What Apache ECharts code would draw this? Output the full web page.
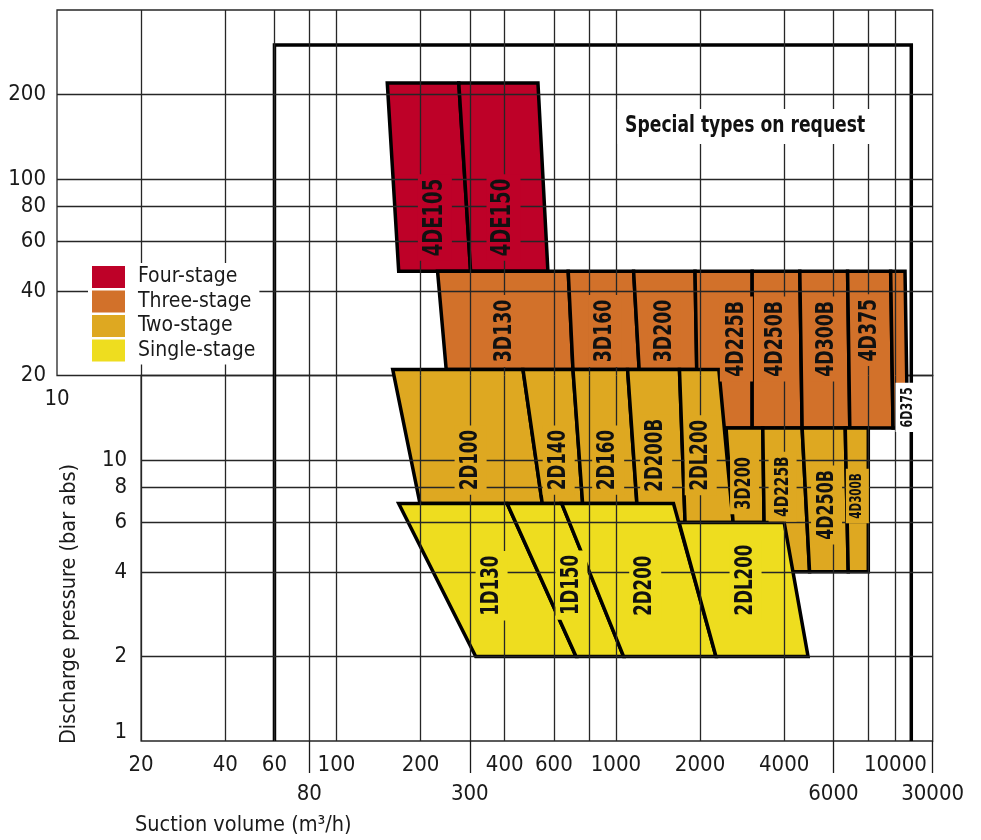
<!DOCTYPE html>
<html>
<head>
<meta charset="utf-8">
<script src="https://cdn.jsdelivr.net/npm/echarts@6/dist/echarts.min.js"></script>
<style>html,body{margin:0;padding:0;background:#fff}#chart{width:981px;height:840px}</style>
</head>
<body>
<div id="chart"></div>
<script>
// ---------------- data (m³/h, bar abs) ----------------
const xMin = 10, xMax = 13600, yMin = 1, ySplit = 20, yMax = 400;
const xGridValues = [20, 40, 60, 80, 100, 200, 300, 400, 600, 800, 1000, 2000, 4000, 6000, 8000, 10000];
const yGridUpper = [40, 60, 80, 100, 200];
const yGridLower = [2, 4, 6, 8, 10];
const xLabelsRow1 = [20, 40, 60, 100, 200, 400, 600, 1000, 2000, 4000, 10000];
const xLabelsRow2 = [80, 300, 6000, 13590];
const xEdgeLabel = '30000';
const xLabelsUpper = [10];
const yLabelsUpper = [20, 40, 60, 80, 100, 200];
const yLabelsLower = [1, 2, 4, 6, 8, 10];

const stageNames = ['Four-stage', 'Three-stage', 'Two-stage', 'Single-stage'];

const fourStageNames = ['4DE105', '4DE150'];
const fourStageCells = [
  [[152, 220], [274, 220], [302, 47], [167, 47]],
  [[274, 220], [526, 220], [571, 47], [302, 47]]
];
const fourStageLabelAt = [[225, 73], [396, 73]];

const threeStageNames = ['3D130', '3D160', '3D200', '4D225B', '4D250B', '4D300B', '4D375', '6D375'];
const threeStageCells = [
  [[230, 47], [675, 47], [702, 21], [247, 21]],
  [[675, 47], [1157, 47], [1211, 21], [702, 21]],
  [[1157, 47], [1919, 47], [1946, 21], [1211, 21]],
  [[1919, 47], [3073, 47], [3073, 13], [1963, 13]],
  [[3073, 47], [4550, 47], [4638, 13], [3073, 13]],
  [[4550, 47], [6745, 47], [6869, 13], [4638, 13]],
  [[6745, 47], [9619, 47], [9811, 13], [6869, 13]],
  [[9619, 47], [10826, 47], [11055, 13], [9811, 13]]
];
const threeStageLabelAt = [[400, 28.8], [911, 28.8], [1488, 28.8], [2698, 27], [3738, 27], [5672, 27], [8086, 29], [11055, 15.4]];

const twoStageNames = ['2D100', '2D140', '2D160', '2D200B', '2DL200', '3D200', '4D225B', '4D250B', '4D300B'];
const twoStageCells = [
  [[159, 21], [465, 21], [545, 7], [199, 7]],
  [[465, 21], [702, 21], [760, 7], [545, 7]],
  [[702, 21], [1101, 21], [1188, 7], [760, 7]],
  [[1101, 21], [1688, 21], [1768, 6], [1202, 6]],
  [[1688, 21], [2335, 21], [2626, 6], [1768, 6]],
  [[2478, 13], [3354, 13], [3390, 6], [2626, 6]],
  [[3354, 13], [4638, 13], [4931, 4], [4297, 4], [3390, 6]],
  [[4638, 13], [6616, 13], [6781, 4], [4931, 4]],
  [[6616, 13], [8000, 13], [8000, 4], [6781, 4]]
];
const twoStageLabelAt = [[302, 10], [624, 10], [938, 10], [1393, 10.4], [2011, 10.4], [2886, 8.26], [3948, 8.04], [5672, 6.92], [7311, 7.45]];

const singleStageNames = ['1D130', '1D150', '2D200', '2DL200'];
const singleStageCells = [
  [[167, 7], [408, 7], [720, 2], [315, 2]],
  [[408, 7], [640, 7], [1065, 2], [720, 2]],
  [[640, 7], [1607, 7], [2280, 2], [1065, 2]],
  [[1683, 6], [4000, 6], [4870, 2], [2280, 2]]
];
const singleStageLabelAt = [[359, 3.57], [693, 3.59], [1273, 3.57], [2910, 3.74]];

const specialFrame = [[60, 1], [60, 300], [11400, 300], [11400, 1]];
const specialText = 'Special types on request';
const specialTextAt = [2900, 154];

// ---------------- styles ----------------
const NARROW = '"Liberation Sans Narrow","DejaVu Sans Condensed","Roboto Condensed",sans-serif';
const COLORS = ['#BE0128', '#D2712A', '#DEA821', '#EEDD1F'];
const LABEL_SQUEEZE = 0.77;
const fourFont = [26, 26];
const threeFont = [25, 25, 25, 25, 25, 25, 25, 16];
const twoFont = [24, 24, 24, 24, 24, 21, 20, 23, 15];
const singleFont = [24, 24, 24, 24];
const gridLine = { color: '#262626', width: 1.3 };
const axisText = { fontSize: 22, fontFamily: NARROW, color: '#1a1a1a' };

function polySeries(name, color, cells, z) {
  return {
    name: name, type: 'custom', xAxisIndex: 3, yAxisIndex: 2, z: z, silent: true,
    itemStyle: { color: color },
    data: cells.map((c, i) => [c[0][0], c[0][1], i]),
    renderItem: function (params, api) {
      const pts = cells[api.value(2)].map(p => api.coord(p));
      return { type: 'polygon', shape: { points: pts },
        style: { fill: color, stroke: '#000', lineWidth: 3.5, lineJoin: 'miter' } };
    }
  };
}
function labelSeries(names, anchors, fonts, bgFor) {
  return {
    type: 'custom', xAxisIndex: 3, yAxisIndex: 2, z: 6, silent: true,
    data: anchors.map((a, i) => [a[0], a[1], i]),
    renderItem: function (params, api) {
      const i = api.value(2);
      const pt = api.coord([api.value(0), api.value(1)]);
      return { type: 'text', x: pt[0], y: pt[1], rotation: Math.PI / 2, scaleX: LABEL_SQUEEZE,
        style: { text: names[i], fill: '#111', fontSize: fonts[i], fontWeight: 'bold', fontFamily: NARROW,
          align: 'center', verticalAlign: 'middle', backgroundColor: bgFor(i), padding: [4, 6] } };
    }
  };
}

const chart = echarts.init(document.getElementById('chart'));
const option = {
  animation: false,
  backgroundColor: '#fff',
  grid: [
    { left: 57, right: 48.3, top: 10, bottom: 464.5, show: true, borderColor: '#262626', borderWidth: 1.3, backgroundColor: 'transparent' },
    { left: 141.1, right: 48.3, top: 375.5, bottom: 99, show: true, borderColor: '#262626', borderWidth: 1.3, backgroundColor: 'transparent' },
    { left: 57, right: 48.3, top: 10, bottom: 99 }
  ],
  xAxis: [
    { gridIndex: 0, type: 'log', logBase: 10, min: xMin, max: xMax, z: 4,
      axisLine: { show: false }, axisTick: { show: false, customValues: xGridValues },
      splitLine: { show: true, customValues: xGridValues, lineStyle: gridLine },
      axisLabel: Object.assign({ customValues: xLabelsUpper, margin: 13, formatter: v => String(Math.round(v)) }, axisText) },
    { gridIndex: 1, type: 'log', logBase: 10, min: ySplit, max: xMax, z: 4, position: 'bottom',
      axisLine: { show: false }, axisTick: { show: false, customValues: xGridValues },
      splitLine: { show: true, customValues: xGridValues, lineStyle: gridLine },
      axisLabel: Object.assign({ customValues: xLabelsRow1, margin: 13, formatter: v => String(Math.round(v)) }, axisText) },
    { gridIndex: 1, type: 'log', logBase: 10, min: ySplit, max: xMax, z: 4, position: 'bottom', offset: 0,
      axisLine: { show: false },
      axisTick: { show: true, customValues: xLabelsRow2, length: 32, lineStyle: { color: '#1a1a1a', width: 1.3 } },
      splitLine: { show: false },
      axisLabel: Object.assign({ customValues: xLabelsRow2, margin: 42,
        formatter: v => (v > 12000 ? xEdgeLabel : String(Math.round(v))) }, axisText) },
    { gridIndex: 2, type: 'log', logBase: 10, min: xMin, max: xMax, show: false }
  ],
  yAxis: [
    { gridIndex: 0, type: 'log', logBase: 10, min: ySplit, max: yMax, z: 4,
      axisLine: { show: false }, axisTick: { show: false, customValues: yGridUpper },
      splitLine: { show: true, customValues: yGridUpper, lineStyle: gridLine },
      axisLabel: Object.assign({ customValues: yLabelsUpper, margin: 11, formatter: v => String(Math.round(v)) }, axisText) },
    { gridIndex: 1, type: 'log', logBase: 10, min: yMin, max: ySplit, z: 4,
      axisLine: { show: false }, axisTick: { show: false, customValues: yGridLower },
      splitLine: { show: true, customValues: yGridLower, lineStyle: gridLine },
      axisLabel: Object.assign({ customValues: yLabelsLower, margin: 14,
        formatter: v => (Math.round(v) === 1 ? '{up|1}' : String(Math.round(v))),
        rich: { up: { fontSize: 22, fontFamily: NARROW, color: '#1a1a1a', padding: [0, 0, 17, 0] } } }, axisText) },
    { gridIndex: 2, type: 'log', logBase: 10, min: yMin, max: yMax, show: false }
  ],
  legend: {
    data: stageNames, orient: 'vertical', left: 88, top: 263, icon: 'rect',
    itemWidth: 33, itemHeight: 22, itemGap: 2.5, selectedMode: false,
    backgroundColor: '#fff', padding: [3, 4, 3, 4], z: 7,
    itemStyle: { borderWidth: 0 },
    textStyle: { fontSize: 21, fontFamily: NARROW, color: '#1a1a1a', padding: [0, 0, 0, 8], lineHeight: 22 }
  },
  graphic: [
    { type: 'text', x: 69, y: 604, rotation: Math.PI / 2,
      style: { text: 'Discharge pressure (bar abs)', fontSize: 21.5, fontFamily: NARROW, fill: '#1a1a1a', align: 'center', verticalAlign: 'middle' } },
    { type: 'text', x: 135, y: 825,
      style: { text: 'Suction volume (m³/h)', fontSize: 21.5, fontFamily: NARROW, fill: '#1a1a1a', align: 'left', verticalAlign: 'middle' } }
  ],
  series: [
    polySeries(stageNames[0], COLORS[0], fourStageCells, 1),
    polySeries(stageNames[1], COLORS[1], threeStageCells, 1),
    polySeries(stageNames[2], COLORS[2], twoStageCells, 2),
    polySeries(stageNames[3], COLORS[3], singleStageCells, 3),
    {
      type: 'custom', xAxisIndex: 3, yAxisIndex: 2, z: 3, silent: true,
      data: [[specialTextAt[0], specialTextAt[1]]],
      renderItem: function (params, api) {
        return { type: 'polyline', shape: { points: specialFrame.map(p => api.coord(p)) },
          style: { fill: 'none', stroke: '#000', lineWidth: 3.5, lineJoin: 'miter' } };
      }
    },
    {
      type: 'custom', xAxisIndex: 3, yAxisIndex: 2, z: 6, silent: true,
      data: [[specialTextAt[0], specialTextAt[1]]],
      renderItem: function (params, api) {
        const pt = api.coord([api.value(0), api.value(1)]);
        return { type: 'text', x: pt[0], y: pt[1], scaleX: 0.83,
          style: { text: specialText, fill: '#111', fontSize: 23, fontWeight: 'bold', fontFamily: NARROW,
            align: 'center', verticalAlign: 'middle', backgroundColor: '#fff', padding: [6, 9] } };
      }
    },
    labelSeries(fourStageNames, fourStageLabelAt, fourFont, () => COLORS[0]),
    labelSeries(threeStageNames, threeStageLabelAt, threeFont, i => (i === threeStageNames.length - 1 ? '#fff' : COLORS[1])),
    labelSeries(twoStageNames, twoStageLabelAt, twoFont, () => COLORS[2]),
    labelSeries(singleStageNames, singleStageLabelAt, singleFont, () => COLORS[3])
  ]
};
chart.setOption(option);
</script>
</body>
</html>
